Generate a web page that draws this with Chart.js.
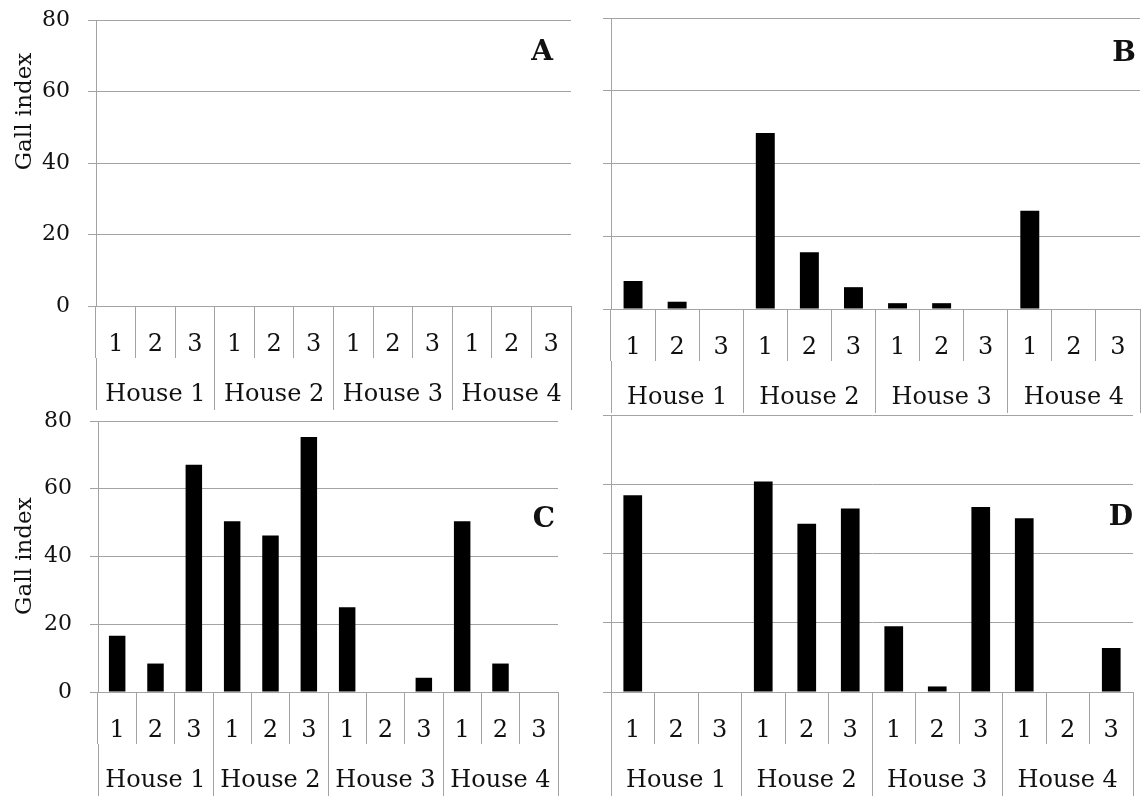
<!DOCTYPE html>
<html>
<head>
<meta charset="utf-8">
<script src="https://cdn.jsdelivr.net/npm/chart.js@4.4.1/dist/chart.umd.min.js"></script>
<style>
  html, body { margin: 0; padding: 0; background: #fff; }
  body { position: relative; width: 1145px; height: 796px; overflow: hidden; }
  canvas { position: absolute; }
</style>
</head>
<body>
<canvas id="chartA" width="585" height="415" style="left:0;top:0"></canvas>
<canvas id="chartB" width="555" height="420" style="left:590px;top:0"></canvas>
<canvas id="chartC" width="580" height="396" style="left:0;top:400px"></canvas>
<canvas id="chartD" width="555" height="396" style="left:590px;top:400px"></canvas>
<script>
// categories
const houses = ['House 1', 'House 2', 'House 3', 'House 4'];
const reps = ['1', '2', '3'];

// gall index per house / replicate
const galA = [0, 0, 0, 0, 0, 0, 0, 0, 0, 0, 0, 0];
const galB = [7.7, 2.0, 0, 48.4, 15.6, 6.0, 1.6, 1.6, 0, 27.0, 0, 0];
const galC = [16.6, 8.4, 67.1, 50.4, 46.2, 75.3, 25.0, 0, 4.2, 50.4, 8.4, 0];
const galD = [56.8, 0, 0, 60.8, 48.6, 53.0, 19.0, 1.6, 53.4, 50.2, 0, 12.7];

// y axis ticks
const yMax = 80;
const yStep = 20;

const FONT = 'DejaVu Serif';
const GRID = '#a3a3a3';
const INK = '#111';

const categories = houses.flatMap(() => reps);

// panel letter + y title (drawn as text on the canvas)
const panelText = {
    id: 'panelText',
    afterDraw(chart, args, opts) {
        const { ctx, chartArea, scales: { y } } = chart;
        ctx.save();
        ctx.fillStyle = INK;
        ctx.font = `bold 28px "${FONT}"`;
        ctx.textAlign = 'right';
        ctx.textBaseline = 'middle';
        ctx.fillText(opts.letter, chartArea.right - opts.inset, y.getPixelForValue(opts.letterAt));
        if (opts.title) {
            ctx.font = `23px "${FONT}"`;
            ctx.textAlign = 'center';
            ctx.translate(25, y.getPixelForValue(opts.titleAt));
            ctx.rotate(-Math.PI / 2);
            ctx.fillText(opts.title, 0, 0);
        }
        ctx.restore();
    }
};

function drawPanel(id, values, o) {
    new Chart(document.getElementById(id), {
        type: 'bar',
        data: {
            labels: categories,
            datasets: [{ data: values, xAxisID: 'x', yAxisID: 'y', backgroundColor: '#000', barPercentage: 0.43, categoryPercentage: 1 }]
        },
        options: {
            responsive: false, animation: false, devicePixelRatio: 1,
            layout: { padding: o.pad },
            plugins: {
                legend: { display: false }, tooltip: { enabled: false },
                panelText: { letter: o.letter, letterAt: o.letterAt, inset: o.inset, title: o.title, titleAt: o.titleAt }
            },
            scales: {
                x: {
                    type: 'category', offset: true, weight: 0, border: { display: false },
                    grid: { offset: true, drawOnChartArea: false, color: GRID, tickLength: 52 },
                    ticks: { color: INK, font: { family: FONT, size: 24 }, padding: -28, maxRotation: 0, autoSkip: false },
                    afterFit: s => { s.height = 52; }
                },
                xh: {
                    type: 'category', labels: houses, position: 'bottom', offset: true, weight: 1, border: { display: false },
                    grid: { offset: true, drawOnChartArea: false, color: GRID, tickLength: 52 },
                    ticks: { color: INK, font: { family: FONT, size: 24 }, padding: -30, maxRotation: 0, autoSkip: false },
                    afterFit: s => { s.height = 52; }
                },
                y: {
                    min: 0, max: yMax,
                    ticks: { stepSize: yStep, display: o.showTicks, padding: 18, color: INK, font: { family: FONT, size: 22 } },
                    grid: { color: GRID, tickLength: 8 },
                    border: { color: GRID },
                    afterFit: s => { s.width = o.yWidth; s.paddingTop = 0; s.paddingBottom = 0; }
                }
            }
        },
        plugins: [panelText]
    });
}

drawPanel('chartA', galA, { pad: { top: 20, right: 14, bottom: 5, left: 0 }, yWidth: 96, showTicks: true, letter: 'A', letterAt: 70.8, inset: 18, title: 'Gall index', titleAt: 54.4 });
drawPanel('chartB', galB, { pad: { top: 18, right: 5, bottom: 7, left: 0 }, yWidth: 21, showTicks: false, letter: 'B', letterAt: 70.2, inset: 4 });
drawPanel('chartC', galC, { pad: { top: 21, right: 22, bottom: 0, left: 0 }, yWidth: 98, showTicks: true, letter: 'C', letterAt: 50.8, inset: 3, title: 'Gall index', titleAt: 40.1 });
drawPanel('chartD', galD, { pad: { top: 15, right: 12, bottom: 0, left: 0 }, yWidth: 21, showTicks: false, letter: 'D', letterAt: 50.4, inset: 0 });
</script>
</body>
</html>
